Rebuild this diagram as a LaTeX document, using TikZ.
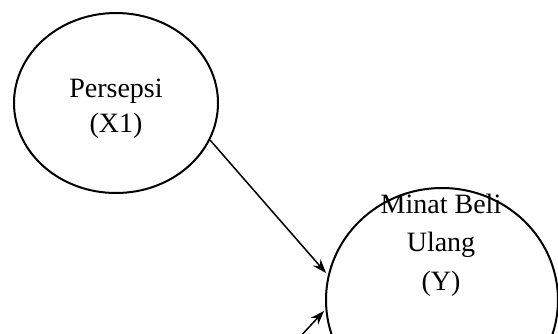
\documentclass[tikz,border=0pt]{standalone}
\usepackage{fontspec}
\setmainfont{Liberation Serif}
\usetikzlibrary{shapes.geometric,arrows.meta}
\begin{document}
\begin{tikzpicture}[x=0.5pt,y=-0.5pt,
  var/.style={draw,ellipse,line width=1pt,inner sep=0pt},
  lbl/.style={align=center,inner sep=0pt},
  conn/.style={line width=0.75pt,-{Stealth[length=7pt,width=5pt]}}]
\useasboundingbox (0,0) rectangle (558,333);
\clip (0,0) rectangle (558,333);
\node[var,minimum width=102pt,minimum height=90pt] (p1) at (116,103) {};
\node[var,minimum width=116pt,minimum height=112pt] (y) at (442,300) {};
\node[lbl,font=\fontsize{14}{17.5}\selectfont] (t1) at (116,109) {Persepsi\\(X1)};
\node[lbl,font=\fontsize{14}{19.25}\selectfont] (t2) at (441,245) {Minat Beli\\Ulang\\(Y)};
\coordinate (a1s) at (210,140);
\coordinate (a1e) at (326,273);
\coordinate (a2s) at (285,353);
\coordinate (a2e) at (324,311);
\draw[conn] (a1s) -- (a1e);
\draw[conn] (a2s) -- (a2e);
\end{tikzpicture}
\end{document}
